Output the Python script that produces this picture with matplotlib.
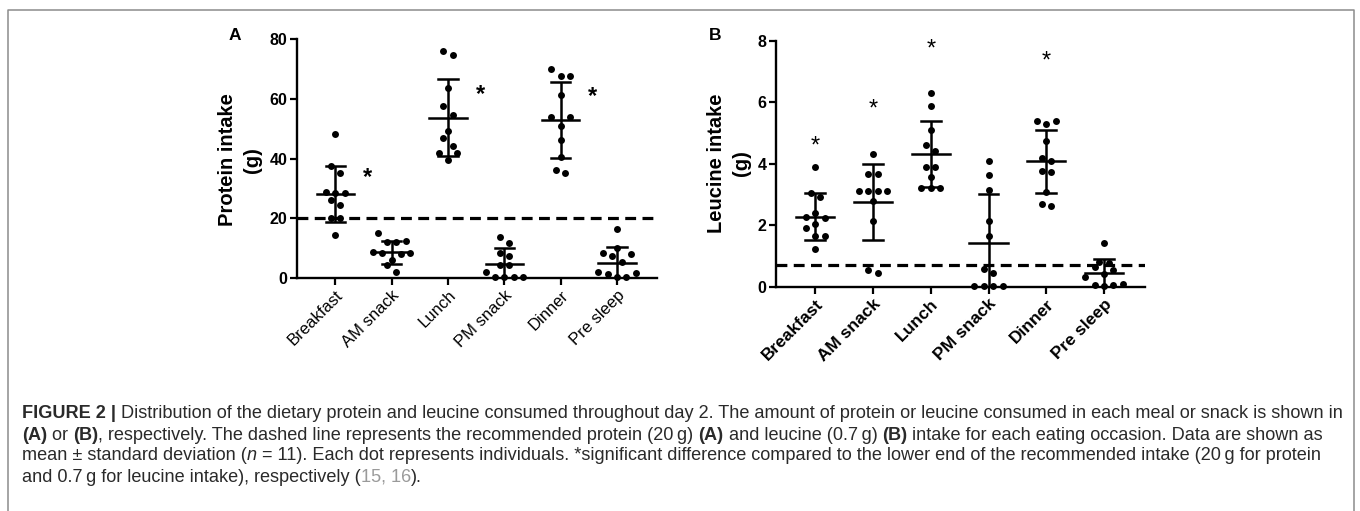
import matplotlib
matplotlib.use("Agg")
import matplotlib.pyplot as plt
import numpy as np
from matplotlib.lines import Line2D

plt.rcParams['font.family'] = ['Liberation Sans', 'DejaVu Sans']

W, H = 1360, 511

meals = ["Breakfast", "AM snack", "Lunch", "PM snack", "Dinner", "Pre sleep"]

# protein intake (g), one list per eating occasion, n = 11
protein = [
    [48.2, 37.4, 35.1, 28.8, 28.5, 28.6, 26.2, 24.3, 20.2, 20.2, 14.4],
    [14.9, 12.3, 12.2, 12.0, 8.6, 8.4, 8.3, 8.1, 6.0, 4.4, 2.1],
    [75.9, 74.8, 63.6, 57.5, 54.7, 49.1, 46.9, 44.1, 41.8, 41.8, 39.6],
    [13.8, 11.6, 8.3, 7.5, 4.4, 4.4, 2.1, 0.4, 0.4, 0.4, 0.4],
    [70.0, 67.6, 67.6, 61.1, 53.8, 53.8, 50.8, 46.3, 40.4, 36.1, 35.3],
    [16.3, 10.0, 8.3, 8.0, 7.5, 5.5, 2.0, 1.8, 1.2, 0.5, 0.3],
]
protein_mean = [28.2, 8.6, 53.6, 4.7, 52.9, 5.0]
protein_sd = [9.4, 3.8, 12.9, 5.2, 12.6, 5.3]
protein_target = 20
protein_sig = {0: 33.6, 2: 61.4, 4: 60.7}

# leucine intake (g)
leucine = [
    [3.90, 3.05, 2.93, 2.39, 2.28, 2.23, 2.03, 1.92, 1.63, 1.63, 1.23],
    [4.32, 3.67, 3.67, 3.12, 3.12, 3.12, 3.12, 2.77, 2.14, 0.54, 0.45],
    [6.29, 5.88, 5.11, 4.62, 4.41, 3.88, 3.88, 3.56, 3.21, 3.21, 3.21],
    [4.10, 3.64, 3.13, 2.14, 1.63, 0.56, 0.43, 0.03, 0.03, 0.03, 0.03],
    [5.39, 5.39, 5.30, 4.73, 4.19, 4.10, 3.75, 3.73, 3.07, 2.69, 2.63],
    [1.43, 0.80, 0.78, 0.62, 0.55, 0.40, 0.30, 0.08, 0.05, 0.03, 0.05],
]
leucine_mean = [2.28, 2.74, 4.32, 1.43, 4.08, 0.43]
leucine_sd = [0.78, 1.24, 1.07, 1.58, 1.03, 0.47]
leucine_target = 0.7
leucine_sig = {0: 4.57, 1: 5.77, 2: 7.73, 4: 7.33}

MS = 5.0  # marker size (pt)


def row_offsets(n, s):
    # GraphPad-like scatter rows: odd rows keep the lowest point centred
    if n % 2:
        out = [0.0]
        for k in range(1, n // 2 + 1):
            out += [k * s, -k * s]
    else:
        out = []
        for k in range(n // 2):
            out += [(k + 0.5) * s, -(k + 0.5) * s]
    return np.array(out[:n])


def swarm_x(ax, xc, vals, D):
    pts = ax.transData.transform(np.column_stack([np.full(len(vals), xc), vals]))
    py = pts[:, 1]
    order = np.argsort(py, kind='stable')
    rows = []
    for i in order:
        if rows and py[i] - py[rows[-1][0]] < 1.3 * D:
            rows[-1].append(i)
        else:
            rows.append([i])
    px = np.zeros(len(vals))
    placed = []
    for row in rows:
        n = len(row)
        if n == 1:
            cands = [np.array([0.0])] + [np.array([s * k * D / 4]) for k in range(1, 30) for s in (1, -1)]
        else:
            cands = [row_offsets(n, D * f) for f in np.arange(1.35, 5.0, 0.1)]
        for offs in cands:
            ok = all(np.hypot(o - qx, py[i] - qy) >= 0.9 * D
                     for o, i in zip(offs, row) for qx, qy in placed)
            if ok:
                break
        for o, i in zip(offs, row):
            px[i] = o
            placed.append((o, py[i]))
    scale = ax.transData.transform([(1, 0)])[0][0] - ax.transData.transform([(0, 0)])[0][0]
    return xc + px / scale


def draw_panel(ax, data, means, sds, target, ylim, yticks, sig, sig_dx, sig_kw, xbold, xfs):
    ax.set_xlim(-0.68, 5.71)
    ax.set_ylim(*ylim)
    ax.set_yticks(yticks)
    ax.set_xticks(range(len(meals)))
    ax.set_xticklabels(meals, rotation=45, ha='right', rotation_mode='anchor',
                       fontsize=xfs, fontweight='bold' if xbold else 'normal')
    for lab in ax.get_yticklabels():
        lab.set_fontweight('bold')
    for s in ['top', 'right']:
        ax.spines[s].set_visible(False)
    for s in ['left', 'bottom']:
        ax.spines[s].set_linewidth(1.7)
    ax.tick_params(axis='both', direction='out', length=5, width=1.6, pad=2, colors='black')
    ax.tick_params(axis='y', labelsize=11.5)

    D = MS * 100 / 72
    for i, vals in enumerate(data):
        xs = swarm_x(ax, i, np.array(vals), D)
        ax.plot(xs, vals, 'o', color='black', ms=MS, mew=0, clip_on=False, zorder=3)
        m, sd = means[i], sds[i]
        ax.plot([i, i], [m - sd, m + sd], color='black', lw=1.8, zorder=4, solid_capstyle='butt')
        ax.plot([i - 0.17, i + 0.17], [m + sd] * 2, color='black', lw=1.8, zorder=4)
        ax.plot([i - 0.17, i + 0.17], [m - sd] * 2, color='black', lw=1.8, zorder=4)
        ax.plot([i - 0.33, i + 0.33], [m, m], color='black', lw=1.8, zorder=4)
    ax.axhline(target, color='black', lw=2.3, linestyle=(0, (3.4, 2.0)), zorder=2)
    for i, yv in sig.items():
        ax.text(i + sig_dx, yv, '*', ha='center', va='center', **sig_kw)


fig = plt.figure(figsize=(W / 100, H / 100), dpi=100)

axA = fig.add_axes([297 / W, 1 - 278 / H, 360 / W, 239 / H])
draw_panel(axA, protein, protein_mean, protein_sd, protein_target, (0, 80), [0, 20, 40, 60, 80],
           protein_sig, 0.57, dict(fontsize=17, fontweight='bold'), False, 12)

axB = fig.add_axes([776 / W, 1 - 286.5 / H, 369 / W, 245.5 / H])
draw_panel(axB, leucine, leucine_mean, leucine_sd, leucine_target, (0, 8), [0, 2, 4, 6, 8],
           leucine_sig, 0.0, dict(fontsize=17), True, 12.5)

fig.text(240 / W, 1 - 160 / H, "Protein intake\n(g)", rotation=90, ha='center', va='center',
         multialignment='center', fontsize=14.5, fontweight='bold', linespacing=1.45)
fig.text(729 / W, 1 - 163 / H, "Leucine intake\n(g)", rotation=90, ha='center', va='center',
         multialignment='center', fontsize=14.5, fontweight='bold', linespacing=1.4)
fig.text(235 / W, 1 - 35 / H, "A", ha='center', va='center', fontsize=12.5, fontweight='bold')
fig.text(715 / W, 1 - 35 / H, "B", ha='center', va='center', fontsize=12.5, fontweight='bold')

# frame around the figure
fig.add_artist(Line2D([7.5 / W, 7.5 / W, 1354 / W, 1354 / W], [0, 1 - 10 / H, 1 - 10 / H, 0],
                      transform=fig.transFigure, color='#8c8c8c', lw=1.1))

# caption
TXT = '#2a2a2a'
caption = [
    [("FIGURE 2 | ", dict(fontweight='bold')),
     ("Distribution of the dietary protein and leucine consumed throughout day 2. The amount of protein or leucine consumed in each meal or snack is shown in", {})],
    [("(A)", dict(fontweight='bold')), (" or ", {}), ("(B)", dict(fontweight='bold')),
     (", respectively. The dashed line represents the recommended protein (20\u2009g) ", {}),
     ("(A)", dict(fontweight='bold')), (" and leucine (0.7\u2009g) ", {}), ("(B)", dict(fontweight='bold')),
     (" intake for each eating occasion. Data are shown as", {})],
    [("mean \u00b1 standard deviation (", {}), ("n", dict(style='italic')),
     (" = 11). Each dot represents individuals. *significant difference compared to the lower end of the recommended intake (20\u2009g for protein", {})],
    [("and 0.7\u2009g for leucine intake), respectively (", {}), ("15, 16", dict(color='#9a9a9a')), (").", {})],
]
line_y = [413, 435, 456, 477]
renderer = fig.canvas.get_renderer()


def text_w(s, fs, kw):
    t = fig.text(0, 0, s, fontsize=fs, **kw)
    w = t.get_window_extent(renderer).width
    t.remove()
    return w


def seg_width(s, fs, kw):
    # measure with guard glyphs so leading/trailing spaces count
    return text_w('|' + s + '|', fs, kw) - text_w('||', fs, kw)


def draw_line(segs, x0, y, fs, draw=True):
    x = x0
    for s, kw in segs:
        k = dict(kw)
        k.setdefault('color', TXT)
        if draw:
            fig.text(x / W, 1 - y / H, s, fontsize=fs, ha='left', va='center', **k)
        x += seg_width(s, fs, k)
    return x - x0


base = 10.0
w1 = draw_line(caption[0], 22, line_y[0], base, draw=False)
cap_fs = base * (1328 / w1)
for segs, y in zip(caption, line_y):
    draw_line(segs, 22, y, cap_fs)

fig.savefig("out.png", dpi=100)
